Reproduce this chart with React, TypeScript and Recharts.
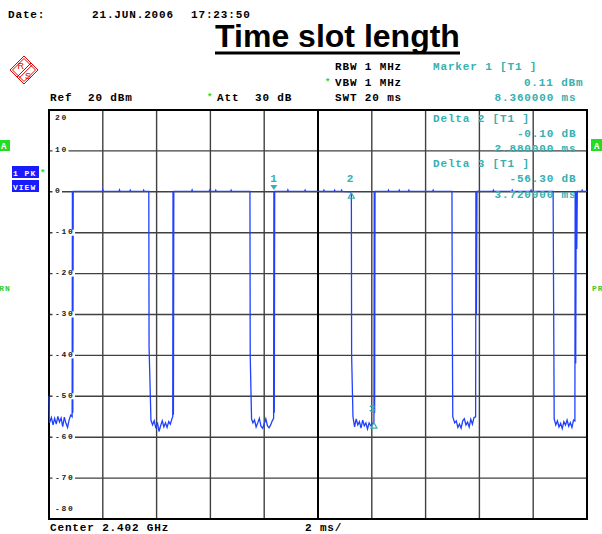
import React from "react";
import {
  LineChart,
  Line,
  XAxis,
  YAxis,
  CartesianGrid,
  ReferenceLine,
  ReferenceArea,
  ReferenceDot,
} from "recharts";

// sweep: 20 ms zero span, points are [time ms, level dBm]
const gap1: [number, number][] = [
  [0.0, -50.0], [0.02, -56.5], [0.09, -55.2], [0.15, -57.0], [0.21, -55.4],
  [0.27, -56.8], [0.33, -54.9], [0.39, -56.3], [0.45, -55.3], [0.51, -57.4],
  [0.57, -55.1], [0.63, -56.6], [0.69, -57.6], [0.75, -55.7], [0.81, -54.6],
  [0.86, -55.0], [0.87, 0.1], [0.885, -54.0], [0.9, 0.1],
];
const on1: [number, number][] = [
  [1.98, 0.1], [2.0, 0.5], [2.02, 0.1], [2.6, 0.1], [2.62, 0.45], [2.64, 0.1],
  [3.0, 0.1], [3.02, 0.4], [3.04, 0.1], [3.5, 0.1], [3.52, 0.4], [3.54, 0.1],
  [3.71, 0.1],
];
const gap2: [number, number][] = [
  [3.72, -38.0], [3.79, -55.8], [3.85, -57.0], [3.91, -56.0], [3.97, -57.8],
  [4.03, -56.4], [4.09, -58.6], [4.15, -57.2], [4.21, -56.0], [4.27, -57.5],
  [4.33, -56.5], [4.39, -57.6], [4.45, -56.2], [4.51, -56.8], [4.57, -55.5],
  [4.6, -55.0], [4.61, 0.1], [4.625, -54.5], [4.64, 0.1],
];
const on2: [number, number][] = [
  [5.3, 0.1], [5.32, 0.45], [5.34, 0.1], [5.95, 0.1], [5.97, 0.4], [5.99, 0.1],
  [6.18, 0.1], [6.2, 0.4], [6.22, 0.1], [6.75, 0.1], [6.77, 0.4], [6.79, 0.1],
  [7.47, 0.1],
];
const gap3: [number, number][] = [
  [7.48, -40.0], [7.53, -55.5], [7.58, -56.5], [7.64, -55.8], [7.7, -57.5],
  [7.76, -56.5], [7.82, -55.4], [7.88, -57.3], [7.94, -57.8], [8.0, -56.8],
  [8.06, -55.5], [8.12, -57.2], [8.18, -57.7], [8.24, -57.0], [8.3, -56.0],
  [8.35, -55.4], [8.36, 0.11], [8.375, -54.0], [8.39, 0.1],
];
const on3: [number, number][] = [
  [8.86, 0.1], [8.88, 0.45], [8.9, 0.1], [9.5, 0.1], [9.52, 0.4], [9.54, 0.1],
  [10.2, 0.1], [10.22, 0.4], [10.24, 0.1], [10.6, 0.1], [10.62, 0.4], [10.64, 0.1],
  [10.86, 0.1], [10.88, 0.4], [10.9, 0.1], [11.24, 0.01],
];
const gap4: [number, number][] = [
  [11.25, -40.0], [11.3, -55.0], [11.36, -57.5], [11.42, -55.5], [11.48, -57.0],
  [11.54, -56.2], [11.6, -57.8], [11.66, -55.8], [11.72, -57.2], [11.78, -56.5],
  [11.84, -58.0], [11.9, -56.5], [11.96, -57.2], [12.02, -56.8], [12.08, -56.19],
  [12.09, 0.1], [12.105, -54.0], [12.12, 0.1],
];
const on4: [number, number][] = [
  [12.6, 0.1], [12.62, 0.4], [12.64, 0.1], [13.0, 0.1], [13.02, 0.4], [13.04, 0.1],
  [13.36, 0.1], [13.38, 0.4], [13.4, 0.1], [14.26, 0.1], [14.28, 0.4], [14.3, 0.1],
  [14.98, 0.1],
];
const gap5: [number, number][] = [
  [14.99, -28.0], [15.01, -55.0], [15.08, -56.5], [15.14, -56.0], [15.2, -57.6],
  [15.26, -56.8], [15.32, -57.8], [15.38, -56.0], [15.44, -55.5], [15.5, -57.0],
  [15.56, -56.3], [15.62, -57.5], [15.68, -55.6], [15.74, -56.8], [15.8, -55.2],
  [15.86, -55.0], [15.87, 0.1], [15.89, -30.0], [15.91, 0.1],
];
const on5: [number, number][] = [
  [16.5, 0.1], [16.52, 0.4], [16.54, 0.1], [17.2, 0.1], [17.22, 0.4], [17.24, 0.1],
  [17.9, 0.1], [17.92, 0.4], [17.94, 0.1], [18.74, 0.1],
];
const gap6: [number, number][] = [
  [18.76, -28.0], [18.78, -55.5], [18.84, -57.0], [18.9, -56.0], [18.96, -57.5],
  [19.02, -56.6], [19.08, -57.9], [19.14, -56.2], [19.2, -57.0], [19.26, -55.8],
  [19.32, -57.3], [19.38, -56.4], [19.44, -57.6], [19.5, -55.8], [19.55, -56.0],
  [19.56, 0.1], [19.58, -42.0], [19.6, 0.1], [19.62, -14.0], [19.64, 0.1],
];
const on6: [number, number][] = [
  [19.8, 0.1], [19.82, 0.4], [19.84, 0.1], [20.0, 0.1],
];

const timeTicks = [0, 2, 4, 6, 8, 10, 12, 14, 16, 18, 20];
const levelTicks = [20, 10, 0, -10, -20, -30, -40, -50, -60, -70, -80];

// markers: [time ms, level dBm]
const marker1: [number, number] = [8.36, 0.11];
const delta2: [number, number] = [11.24, 0.01];
const delta3: [number, number] = [12.08, -56.19];

const trace = [
  ...gap1, ...on1, ...gap2, ...on2, ...gap3, ...on3,
  ...gap4, ...on4, ...gap5, ...on5, ...gap6, ...on6,
].map(([t, dbm]) => ({ t, dbm }));

const MONO = "'Liberation Mono', 'DejaVu Sans Mono', monospace";
const TEAL = "#36b0b0";
const GREEN = "#22dd22";

const txt = {
  fontFamily: MONO,
  fontSize: 11,
  fontWeight: 700,
  letterSpacing: 0.85,
} as const;

function DbTick(props: any) {
  const { x, y, payload } = props;
  const v = payload.value as number;
  const label = String(v);
  let ty = y + 1.5;
  if (v === 20) ty = y + 9.5;
  if (v === -80) ty = y - 8.5;
  const w = label.length * 6.5 + 3;
  return (
    <g>
      {v !== 20 && v !== -80 && (
        <rect x={x - 2.5} y={y - 3} width={w} height={6} fill="#fff" />
      )}
      <text
        x={x}
        y={ty}
        fill="#222"
        fontFamily={MONO}
        fontSize={8}
        fontWeight={700}
        letterSpacing={1.7}
      >
        {label}
      </text>
    </g>
  );
}

function MarkerShape(props: any) {
  const { cx, cy } = props;
  return (
    <g>
      <polygon
        points={`${cx - 3.5},${cy - 6.3} ${cx + 3.5},${cy - 6.3} ${cx},${cy - 1.3}`}
        fill={TEAL}
      />
      <text x={cx} y={cy - 9.5} textAnchor="middle" fill={TEAL} {...txt}>
        1
      </text>
    </g>
  );
}

function deltaShape(num: string, dx: number) {
  return (props: any) => {
    const { cx, cy } = props;
    return (
      <g>
        <polygon
          points={`${cx - 3},${cy + 6.5} ${cx + 3},${cy + 6.5} ${cx},${cy + 1}`}
          fill="none"
          stroke={TEAL}
          strokeWidth={1.2}
        />
        <text x={cx + dx} y={cy - 10} textAnchor="middle" fill={TEAL} {...txt}>
          {num}
        </text>
      </g>
    );
  };
}

export default function App() {
  return (
    <div
      style={{
        position: "absolute",
        left: 0,
        top: 0,
        width: 602,
        height: 534,
        background: "#fff",
        overflow: "hidden",
      }}
    >
      <LineChart
        width={602}
        height={534}
        data={trace}
        margin={{ top: 110, right: 15, bottom: 15, left: 49 }}
      >
        <CartesianGrid stroke="#404040" strokeWidth={1.4} />
        <XAxis
          type="number"
          dataKey="t"
          domain={[0, 20]}
          ticks={timeTicks}
          hide
        />
        <YAxis
          type="number"
          domain={[-80, 20]}
          ticks={levelTicks}
          interval={0}
          mirror
          axisLine={false}
          tickLine={false}
          tickSize={0}
          tickMargin={6}
          tick={<DbTick />}
        />
        <ReferenceLine x={10} stroke="#000" strokeWidth={2} />
        <ReferenceArea
          x1={0}
          x2={20}
          y1={-80}
          y2={20}
          fill="none"
          fillOpacity={0}
          stroke="#000"
          strokeWidth={2}
        />
        <Line
          type="linear"
          dataKey="dbm"
          stroke="#2040ff"
          strokeWidth={1.3}
          dot={false}
          isAnimationActive={false}
        />
        <ReferenceDot x={marker1[0]} y={marker1[1]} shape={<MarkerShape />} />
        <ReferenceDot x={delta2[0]} y={delta2[1]} shape={deltaShape("2", -1)} />
        <ReferenceDot x={delta3[0]} y={delta3[1]} shape={deltaShape("3", -1.5)} />
      </LineChart>

      <svg
        width={602}
        height={534}
        style={{ position: "absolute", left: 0, top: 0, pointerEvents: "none" }}
      >
        {/* header */}
        <text x={8} y={17.5} fill="#000" {...txt}>Date:</text>
        <text x={92} y={17.5} fill="#000" {...txt}>21.JUN.2006</text>
        <text x={191} y={17.5} fill="#000" {...txt}>17:23:50</text>

        <text
          x={337.5}
          y={47}
          textAnchor="middle"
          fontFamily="'Liberation Sans', Arial, sans-serif"
          fontWeight={700}
          fontSize={32}
          fill="#000"
        >
          Time slot length
        </text>
        <rect x={215} y={51.5} width={245} height={3} fill="#000" />

        {/* R&S logo */}
        <g stroke="#e00000" fill="none" strokeWidth={1}>
          <polygon points="24,56 38,70 24,84 10,70" />
          <polygon points="24,58.5 35.5,70 24,81.5 12.5,70" />
          <line x1={17} y1={77} x2={31} y2={63} />
          <line x1={18.6} y1={78.6} x2={32.6} y2={64.6} />
        </g>
        <text x={17.5} y={68.5} fill="#e00000" fontFamily="'Liberation Sans', Arial" fontSize={9}>R</text>
        <text x={25} y={78.5} fill="#e00000" fontFamily="'Liberation Sans', Arial" fontSize={9}>S</text>

        <text x={50} y={101} fill="#000" {...txt}>Ref</text>
        <text x={88} y={101} fill="#000" {...txt}>20 dBm</text>
        <text x={207} y={100} fill={GREEN} {...txt} fontSize={9}>*</text>
        <text x={217} y={101} fill="#000" {...txt}>Att</text>
        <text x={255} y={101} fill="#000" {...txt}>30 dB</text>

        <text x={335} y={70} fill="#000" {...txt}>RBW 1 MHz</text>
        <text x={325} y={85} fill={GREEN} {...txt} fontSize={9}>*</text>
        <text x={335} y={86} fill="#000" {...txt}>VBW 1 MHz</text>
        <text x={335} y={101} fill="#000" {...txt}>SWT 20 ms</text>

        <text x={433} y={70} fill={TEAL} {...txt}>Marker 1 [T1 ]</text>
        <text x={583.5} y={86} textAnchor="end" fill={TEAL} {...txt}>0.11 dBm</text>
        <text x={576.5} y={101} textAnchor="end" fill={TEAL} {...txt}>8.360000 ms</text>

        <text x={433} y={122} fill={TEAL} {...txt}>Delta 2 [T1 ]</text>
        <text x={576.5} y={137} textAnchor="end" fill={TEAL} {...txt}>-0.10 dB</text>
        <text x={576.5} y={152} textAnchor="end" fill={TEAL} {...txt}>2.880000 ms</text>
        <text x={433} y={167} fill={TEAL} {...txt}>Delta 3 [T1 ]</text>
        <text x={576.5} y={182} textAnchor="end" fill={TEAL} {...txt}>-56.30 dB</text>
        <text x={576.5} y={198} textAnchor="end" fill={TEAL} {...txt}>3.720000 ms</text>

        {/* side annotations */}
        <rect x={0} y={140} width={10} height={11} fill={GREEN} />
        <text x={1} y={149} fill="#fff" {...txt} fontSize={9}>A</text>
        <rect x={591} y={139} width={11} height={12} fill={GREEN} />
        <text x={594} y={148.5} fill="#fff" {...txt} fontSize={9}>A</text>

        <rect x={12} y={166} width={27} height={12} fill="#1a1aff" />
        <rect x={12} y={180} width={27} height={12} fill="#1a1aff" />
        <text x={13} y={175.5} fill="#fff" fontFamily={MONO} fontSize={8} fontWeight={700} letterSpacing={1}>1 PK</text>
        <text x={13} y={189.5} fill="#fff" fontFamily={MONO} fontSize={8} fontWeight={700} letterSpacing={1}>VIEW</text>
        <text x={40} y={176} fill={GREEN} {...txt} fontSize={9}>*</text>

        <text x={-6.5} y={291} fill="#33cc33" fontFamily={MONO} fontSize={8} fontWeight={700} letterSpacing={1}>PRN</text>
        <text x={592} y={291} fill="#33cc33" fontFamily={MONO} fontSize={8} fontWeight={700} letterSpacing={1}>PRN</text>

        {/* footer */}
        <text x={50} y={531} fill="#000" {...txt}>Center 2.402 GHz</text>
        <text x={305} y={531} fill="#000" {...txt}>2 ms/</text>
      </svg>
    </div>
  );
}
